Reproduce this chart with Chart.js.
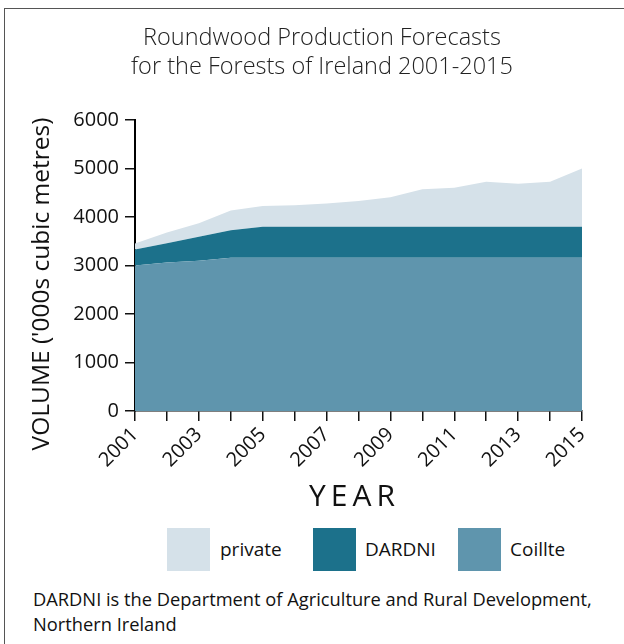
<!DOCTYPE html>
<html>
<head>
<meta charset="utf-8">
<script src="https://cdn.jsdelivr.net/npm/chart.js@4"></script>
<style>
  html, body { margin: 0; padding: 0; background: #fff; }
  body { width: 624px; height: 644px; position: relative; overflow: hidden;
         font-family: "Open Sans", sans-serif; color: #111; }
  #frame { position: absolute; left: 4px; top: 8px; right: -10px; bottom: -10px;
           border-top: 1px solid #555; border-left: 1px solid #555; }
  #title { position: absolute; left: 0; width: 644px; top: 22px; text-align: center;
           font-size: 23.5px; line-height: 29px; font-weight: 300; color: #222; }
  #chartBox { position: absolute; left: 0; top: 0; width: 624px; height: 510px; }
  .legend-item { position: absolute; top: 528px; height: 43px; }
  .swatch { position: absolute; left: 0; top: 0; width: 43px; height: 43px; }
  .legend-label { position: absolute; top: 8px; font-size: 19px; white-space: nowrap; }
  #note { position: absolute; left: 33px; top: 586px; font-size: 18.3px; line-height: 25px; }
</style>
</head>
<body>
<div id="frame"></div>
<div id="chartBox"><canvas id="areaChart"></canvas></div>
<div id="title">Roundwood Production Forecasts<br>for the Forests of Ireland 2001-2015</div>
<div id="legend"></div>
<div id="note">DARDNI is the Department of Agriculture and Rural Development,<br>Northern Ireland</div>
<script>
// Forecast years
const years = ["2001", "2002", "2003", "2004", "2005", "2006", "2007", "2008",
  "2009", "2010", "2011", "2012", "2013", "2014", "2015"];

// Volumes ('000s cubic metres)
const coillte = [3000, 3060, 3100, 3160, 3160, 3160, 3160, 3160, 3160, 3160, 3160, 3160, 3160, 3160, 3160];
const dardni = [330, 400, 495, 565, 640, 640, 640, 640, 640, 640, 640, 640, 640, 640, 640];
const privateVol = [125, 220, 275, 410, 425, 440, 480, 530, 605, 770, 805, 925, 885, 925, 1200];

// y axis tick labels
const yTicks = [0, 1000, 2000, 3000, 4000, 5000, 6000];

const COLORS = {
  private: "#d5e1e9",
  dardni: "#1c718b",
  coillte: "#5f95ad",
  ink: "#111111",
};

const FONT = "'Open Sans', sans-serif";

// legend, top to bottom of the stack
const legendItems = [
  { label: "private", color: COLORS.private, x: 167, textX: 53 },
  { label: "DARDNI", color: COLORS.dardni, x: 313, textX: 52 },
  { label: "Coillte", color: COLORS.coillte, x: 458, textX: 52 },
];

function buildLegend() {
  const box = document.getElementById("legend");
  legendItems.forEach((item) => {
    const el = document.createElement("div");
    el.className = "legend-item";
    el.style.left = item.x + "px";
    el.innerHTML = `<div class="swatch" style="background:${item.color}"></div>` +
      `<div class="legend-label" style="left:${item.textX}px">${item.label}</div>`;
    box.appendChild(el);
  });
}

// axis titles drawn by hand so they sit where the original has them
const axisTitles = {
  id: "axisTitles",
  afterDraw(chart) {
    const ctx = chart.ctx;
    const area = chart.chartArea;
    ctx.save();
    ctx.fillStyle = COLORS.ink;
    ctx.textAlign = "center";
    ctx.textBaseline = "middle";

    ctx.font = `24.5px ${FONT}`;
    ctx.translate(42, 284);
    ctx.rotate(-Math.PI / 2);
    ctx.fillText("VOLUME ('000s cubic metres)", 0, 0);
    ctx.restore();

    ctx.save();
    ctx.fillStyle = COLORS.ink;
    ctx.textAlign = "center";
    ctx.textBaseline = "middle";
    ctx.font = `30px ${FONT}`;
    ctx.letterSpacing = "5px";
    ctx.fillText("YEAR", (area.left + area.right) / 2 - 4, 497);
    ctx.restore();
  },
};

function createAreaChart(canvasId) {
  const ctx = document.getElementById(canvasId);
  if (!ctx) return null;

  return new Chart(ctx, {
    type: "line",
    data: {
      labels: years,
      datasets: [
        { label: "Coillte", data: coillte, backgroundColor: COLORS.coillte, fill: "origin" },
        { label: "DARDNI", data: dardni, backgroundColor: COLORS.dardni, fill: "-1" },
        { label: "private", data: privateVol, backgroundColor: COLORS.private, fill: "-1" },
      ].map((d) => ({ ...d, borderWidth: 0, pointRadius: 0, tension: 0 })),
    },
    options: {
      responsive: true,
      maintainAspectRatio: false,
      animation: false,
      layout: { padding: { top: 120, right: 42, left: 0, bottom: 0 } },
      plugins: {
        legend: { display: false },
        tooltip: { enabled: false },
      },
      scales: {
        x: {
          offset: false,
          border: { display: true, color: "#000", width: 1.5 },
          grid: { drawOnChartArea: false, drawTicks: true, tickLength: 10, color: "#111", lineWidth: 1.5 },
          ticks: {
            autoSkip: false,
            maxRotation: 45,
            minRotation: 45,
            padding: 2,
            color: COLORS.ink,
            font: { family: FONT, size: 20 },
            callback: function (value, index) {
              return index % 2 === 0 ? years[index] : "";
            },
          },
          afterFit: (scale) => { scale.height = 99; },
        },
        y: {
          stacked: true,
          min: yTicks[0],
          max: yTicks[yTicks.length - 1],
          border: { display: true, color: "#000", width: 2 },
          grid: { drawOnChartArea: false, drawTicks: true, tickLength: 10, color: "#111", lineWidth: 1.5 },
          afterBuildTicks: (scale) => { scale.ticks = yTicks.map((v) => ({ value: v })); },
          ticks: {
            padding: 6,
            color: COLORS.ink,
            font: { family: FONT, size: 20 },
            callback: (value) => String(value),
          },
          afterFit: (scale) => { scale.width = 135; },
        },
      },
    },
    plugins: [axisTitles],
  });
}

buildLegend();
createAreaChart("areaChart");
</script>
</body>
</html>
